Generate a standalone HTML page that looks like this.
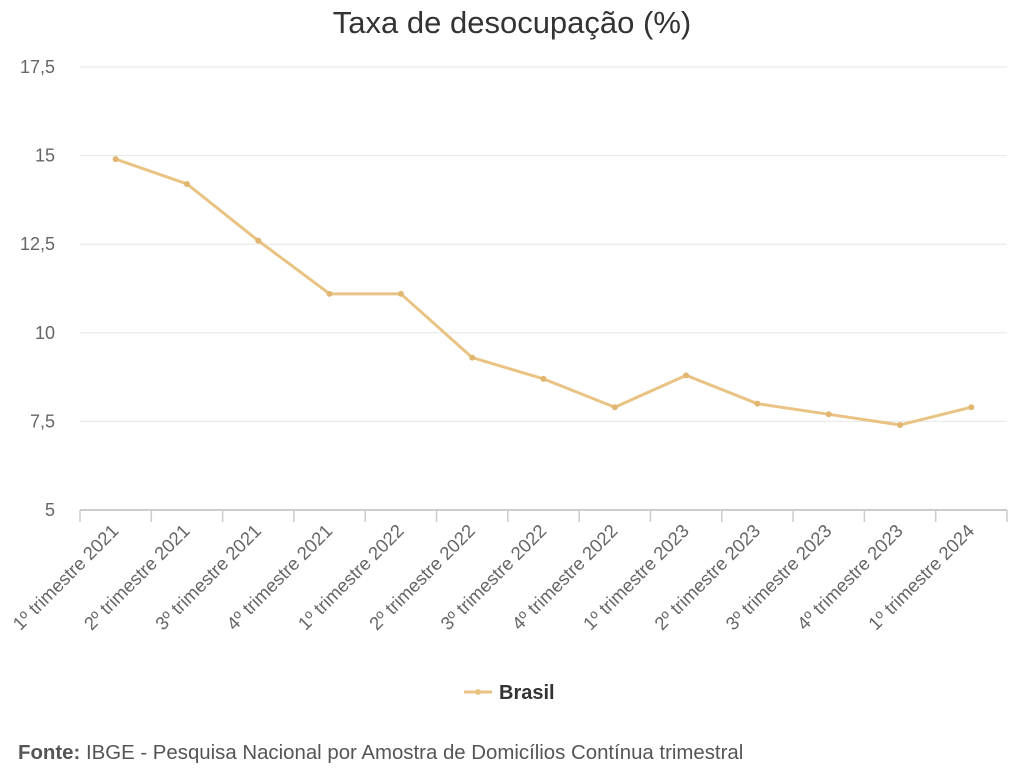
<!DOCTYPE html>
<html><head><meta charset="utf-8"><style>
body{margin:0;background:#fff;font-family:"Liberation Sans",sans-serif;}
</style></head><body>
<svg width="1024" height="768">
<text x="512" y="33" text-anchor="middle" font-size="31" fill="#333">Taxa de desocupação (%)</text>
<g id="grid"></g><g id="xaxis"></g><g id="series"></g>
<g>
<line x1="464" y1="692" x2="492" y2="692" stroke="#e9c383" stroke-width="3"/>
<circle cx="478" cy="692" r="3" fill="#e9c383"/>
<text x="499" y="699" font-size="20" font-weight="bold" fill="#333">Brasil</text>
</g>
<text x="18" y="759" font-size="20.4" fill="#555"><tspan font-weight="bold">Fonte:</tspan> IBGE - Pesquisa Nacional por Amostra de Domicílios Contínua trimestral</text>
</svg>
<script>
const categories=["1º trimestre 2021","2º trimestre 2021","3º trimestre 2021","4º trimestre 2021","1º trimestre 2022","2º trimestre 2022","3º trimestre 2022","4º trimestre 2022","1º trimestre 2023","2º trimestre 2023","3º trimestre 2023","4º trimestre 2023","1º trimestre 2024"];
const values=[14.9,14.2,12.6,11.1,11.1,9.3,8.7,7.9,8.8,8.0,7.7,7.4,7.9];
const yTicks=[5,7.5,10,12.5,15,17.5];
const yLabels=["5","7,5","10","12,5","15","17,5"];
const NS="http://www.w3.org/2000/svg";
const x0=80,x1=1007,yMin=5,yMax=17.5,py0=510,py1=67;
const bw=(x1-x0)/categories.length;
const X=i=>x0+bw*(i+0.5);
const Y=v=>py0-(v-yMin)/(yMax-yMin)*(py0-py1);
function mk(tag,attrs,parent){const e=document.createElementNS(NS,tag);for(const k in attrs)e.setAttribute(k,attrs[k]);parent.appendChild(e);return e;}
const grid=document.getElementById('grid');
yTicks.forEach((t,i)=>{
 const l=mk('line',{x1:x0,x2:x1,y1:Y(t),y2:Y(t),stroke:i==0?'#ccc':'#e6e6e6','stroke-width':i==0?2:1},grid);
 
 
 const tx=mk('text',{x:55,y:Y(t)+6,'text-anchor':'end','font-size':18,fill:'#666'},grid);
 tx.textContent=yLabels[i];
 
 
});
const xa=document.getElementById('xaxis');
for(let i=0;i<=categories.length;i++){
 const tk=mk('line',{x1:x0+bw*i,x2:x0+bw*i,y1:py0,y2:py0+12,stroke:'#ccc','stroke-width':1.5},xa);
 
 
}
categories.forEach((c,i)=>{
 const x=X(i)+4,y=py0+22;
 const t=mk('text',{x:x,y:y,'text-anchor':'end','font-size':18.5,fill:'#666',transform:`rotate(-45 ${x} ${y})`},xa);
 t.textContent=c;
 
 
});
const s=document.getElementById('series');
const p=mk('polyline',{points:values.map((v,i)=>X(i)+','+Y(v)).join(' '),fill:'none',stroke:'#e9c383','stroke-width':3,'stroke-linejoin':'round'},s);


values.forEach((v,i)=>{
 const c=mk('circle',{cx:X(i),cy:Y(v),r:3,fill:'#e0b671'},s);
 
 
});
</script>
</body></html>
